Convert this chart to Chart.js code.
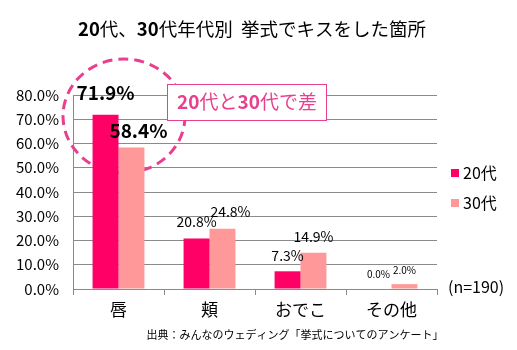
<!DOCTYPE html>
<html>
<head>
<meta charset="utf-8">
<script src="https://cdn.jsdelivr.net/npm/chart.js@4/dist/chart.umd.min.js"></script>
<style>
  html, body { margin: 0; padding: 0; background: #fff; }
</style>
</head>
<body>
<canvas id="chart" width="517" height="350"></canvas>
<script>
// データ
const categories = ["唇", "頬", "おでこ", "その他"];
const seriesNames = ["20代", "30代"];
const values20 = [71.9, 20.8, 7.3, 0.0];
const values30 = [58.4, 24.8, 14.9, 2.0];
const yMax = 80;
const yStep = 10;
const sampleNote = "(n=190)";
const titleRuns = [["20", true], ["代、", false], ["30", true], ["代年代別  挙式でキスをした箇所", false]];
const calloutRuns = [["20", true], ["代と", false], ["30", true], ["代で差", false]];
const sourceText = "出典：みんなのウェディング「挙式についてのアンケート」";

const FONT = '"Noto Sans CJK JP", "Noto Sans", sans-serif';
const colors = ["#FF0066", "#FF9999"];
const pink = "#E8408E";
const gridColor = "#8A8A8A";

// ラベルの位置調整 (棒の上端からのずれ) と文字サイズ
const labelOffsets = [
  [{ dx: 0, dy: -22, size: 19, bold: true }, { dx: 0, dy: -17, size: 14 }, { dx: 0, dy: -16, size: 14 }, { dx: 0, dy: -15, size: 10 }],
  [{ dx: 7, dy: -17, size: 19, bold: true }, { dx: 8, dy: -17, size: 14 }, { dx: 0, dy: -16, size: 14 }, { dx: 0, dy: -14, size: 10 }],
];

function drawRuns(ctx, runs, cx, cy, size, color) {
  ctx.save();
  ctx.fillStyle = color;
  ctx.textBaseline = "middle";
  ctx.textAlign = "left";
  let total = 0;
  const widths = runs.map(([t, b]) => {
    ctx.font = (b ? "bold " : "") + size + "px " + FONT;
    const w = ctx.measureText(t).width;
    total += w;
    return w;
  });
  let x = cx - total / 2;
  runs.forEach(([t, b], i) => {
    ctx.font = (b ? "bold " : "") + size + "px " + FONT;
    ctx.fillText(t, x, cy);
    x += widths[i];
  });
  ctx.restore();
}

const decorations = {
  id: "decorations",
  beforeDatasetsDraw(chart) {
    // 点線の円 (棒の後ろ)
    const ctx = chart.ctx;
    ctx.save();
    ctx.strokeStyle = pink;
    ctx.lineWidth = 3;
    ctx.setLineDash([10, 6]);
    ctx.beginPath();
    ctx.ellipse(124, 116, 61, 57, 0, 0, Math.PI * 2);
    ctx.stroke();
    ctx.restore();
  },
  afterDatasetsDraw(chart) {
    const ctx = chart.ctx;

    // 値ラベル
    chart.data.datasets.forEach((ds, di) => {
      chart.getDatasetMeta(di).data.forEach((bar, i) => {
        const o = labelOffsets[di][i];
        ctx.save();
        ctx.fillStyle = "#000";
        ctx.font = (o.bold ? "bold " : "") + o.size + "px " + FONT;
        ctx.textAlign = "center";
        ctx.textBaseline = "middle";
        ctx.fillText(ds.data[i].toFixed(1) + "%", bar.x + o.dx, bar.y + o.dy);
        ctx.restore();
      });
    });

    // 吹き出し
    ctx.save();
    ctx.fillStyle = "#fff";
    ctx.strokeStyle = pink;
    ctx.lineWidth = 1;
    ctx.fillRect(167.5, 84.5, 159, 36);
    ctx.strokeRect(167.5, 84.5, 159, 36);
    ctx.restore();
    drawRuns(ctx, calloutRuns, 247, 102, 19, pink);

    // タイトル
    drawRuns(ctx, titleRuns, 252, 29, 18.5, "#000");

    // 凡例
    ctx.save();
    ctx.font = "16px " + FONT;
    ctx.textBaseline = "middle";
    ctx.textAlign = "left";
    seriesNames.forEach((name, i) => {
      const y = 173 + i * 30;
      ctx.fillStyle = colors[i];
      ctx.fillRect(451, y - 4, 8, 8);
      ctx.fillStyle = "#000";
      ctx.fillText(name, 463, y);
    });
    ctx.fillText(sampleNote, 448, 287);
    ctx.font = "11px " + FONT;
    ctx.textAlign = "center";
    ctx.fillText(sourceText, 295, 335);
    ctx.restore();
  },
};

new Chart(document.getElementById("chart"), {
  type: "bar",
  data: {
    labels: categories,
    datasets: [
      { label: seriesNames[0], data: values20, backgroundColor: colors[0] },
      { label: seriesNames[1], data: values30, backgroundColor: colors[1] },
    ],
  },
  options: {
    responsive: false,
    animation: false,
    layout: { padding: { top: 95, right: 80, bottom: 26, left: 0 } },
    datasets: { bar: { categoryPercentage: 0.57, barPercentage: 1 } },
    plugins: {
      legend: { display: false },
      title: { display: false },
      tooltip: { enabled: false },
    },
    scales: {
      x: {
        grid: { drawOnChartArea: false, drawTicks: true, tickLength: 6, color: gridColor, offset: true },
        border: { color: gridColor },
        ticks: { color: "#000", font: { family: FONT, size: 17 }, padding: 4 },
        afterFit(scale) { scale.height = 35; },
      },
      y: {
        min: 0,
        max: yMax,
        grid: { color: gridColor, drawTicks: false },
        border: { color: gridColor },
        ticks: {
          stepSize: yStep,
          color: "#000",
          padding: 14,
          font: { family: FONT, size: 15 },
          callback: (v) => v.toFixed(1) + "%",
        },
        afterFit(scale) { scale.width = 73; },
      },
    },
  },
  plugins: [decorations],
});
</script>
</body>
</html>
